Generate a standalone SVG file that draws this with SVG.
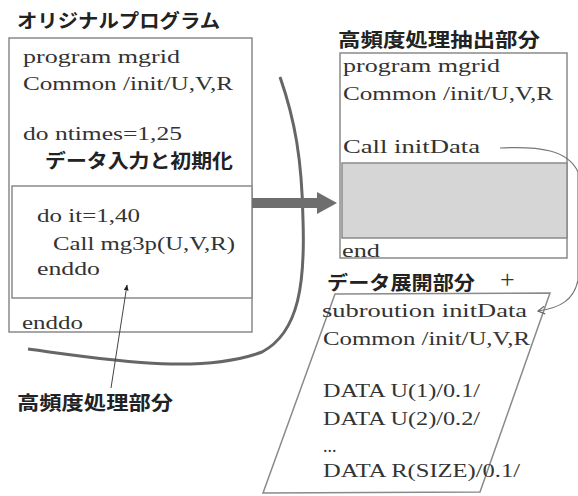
<svg xmlns="http://www.w3.org/2000/svg" width="578" height="496" viewBox="0 0 578 496">
<style>
.box{fill:#fff;stroke:#8a8a8a;stroke-width:1.5}
.code{font-family:"Liberation Serif","DejaVu Serif",serif;font-size:18px;fill:#333}
.jp{font-family:"Noto Sans CJK JP","Noto Sans",sans-serif;font-weight:bold;font-size:19px;fill:#222}
.thin{fill:none;stroke:#777;stroke-width:1.2}
</style>
<defs>
<marker id="tri" viewBox="0 0 10 10" refX="9" refY="5" markerWidth="6" markerHeight="6" orient="auto"><path d="M0,1 L10,5 L0,9 Z" fill="#222"/></marker>
<marker id="open" viewBox="0 0 10 10" refX="9" refY="5" markerWidth="8" markerHeight="8" orient="auto"><path d="M2,1 L9,5 L2,9" fill="none" stroke="#666" stroke-width="1.2"/></marker>
</defs>

<g id="original-program">
<text class="jp" x="17" y="28" textLength="203" lengthAdjust="spacingAndGlyphs">オリジナルプログラム</text>
<rect class="box" x="9" y="38" width="243" height="294"/>
<rect class="box" x="12" y="186" width="240" height="112"/>
<text class="code" x="23" y="63" textLength="157" lengthAdjust="spacingAndGlyphs">program mgrid</text>
<text class="code" x="23" y="90" textLength="210" lengthAdjust="spacingAndGlyphs">Common /init/U,V,R</text>
<text class="code" x="23" y="140" textLength="159" lengthAdjust="spacingAndGlyphs">do ntimes=1,25</text>
<text class="jp" x="45" y="168" textLength="188" lengthAdjust="spacingAndGlyphs">データ入力と初期化</text>
<text class="code" x="37" y="222" textLength="103" lengthAdjust="spacingAndGlyphs">do it=1,40</text>
<text class="code" x="53" y="250" textLength="182" lengthAdjust="spacingAndGlyphs">Call mg3p(U,V,R)</text>
<text class="code" x="37" y="275" textLength="63" lengthAdjust="spacingAndGlyphs">enddo</text>
<text class="code" x="22" y="329" textLength="61" lengthAdjust="spacingAndGlyphs">enddo</text>
</g>

<g id="hotspot-label">
<text class="jp" x="17" y="410" textLength="156" lengthAdjust="spacingAndGlyphs">高頻度処理部分</text>
</g>

<g id="extracted-part">
<text class="jp" x="338" y="47" textLength="202" lengthAdjust="spacingAndGlyphs">高頻度処理抽出部分</text>
<rect class="box" x="340" y="53" width="227" height="205"/>
<rect x="342" y="163" width="225" height="75" fill="#d6d6d6" stroke="#8a8a8a" stroke-width="1.5"/>
<text class="code" x="343" y="72" textLength="157" lengthAdjust="spacingAndGlyphs">program mgrid</text>
<text class="code" x="343" y="100" textLength="210" lengthAdjust="spacingAndGlyphs">Common /init/U,V,R</text>
<text class="code" x="343" y="153" textLength="137" lengthAdjust="spacingAndGlyphs">Call initData</text>
<text class="code" x="342" y="257" textLength="38" lengthAdjust="spacingAndGlyphs">end</text>
</g>

<g id="data-expansion">
<text class="jp" x="327" y="290" textLength="148" lengthAdjust="spacingAndGlyphs">データ展開部分</text>
<text x="500" y="288" font-family="Liberation Serif, serif" font-size="26" fill="#333">+</text>
<polygon class="box" points="335,294 550,293 480,492 263,493" fill="none"/>
<text class="code" x="322" y="317" textLength="205" lengthAdjust="spacingAndGlyphs">subroution initData</text>
<text class="code" x="323" y="345" textLength="207" lengthAdjust="spacingAndGlyphs">Common /init/U,V,R</text>
<text class="code" x="323" y="397" textLength="157" lengthAdjust="spacingAndGlyphs">DATA U(1)/0.1/</text>
<text class="code" x="323" y="425" textLength="157" lengthAdjust="spacingAndGlyphs">DATA U(2)/0.2/</text>
<text class="code" x="323" y="452">...</text>
<text class="code" x="323" y="477" textLength="197" lengthAdjust="spacingAndGlyphs">DATA R(SIZE)/0.1/</text>
</g>

<g id="connectors">
<path d="M28,349 C110,360 200,375 262,352 C300,332 305,280 303,220 C302,160 295,120 280,77" fill="none" stroke="#666" stroke-width="3"/>
<polygon points="252,198 317,198 317,192 337,203 317,214 317,208 252,208" fill="#6e6e6e"/>
<line x1="111" y1="388" x2="127" y2="285" stroke="#444" stroke-width="1" marker-end="url(#tri)"/>
<path class="thin" d="M500,148 C540,146 568,150 578,172 L578,280 C574,300 560,308 538,311" marker-end="url(#open)"/>
</g>
</svg>
